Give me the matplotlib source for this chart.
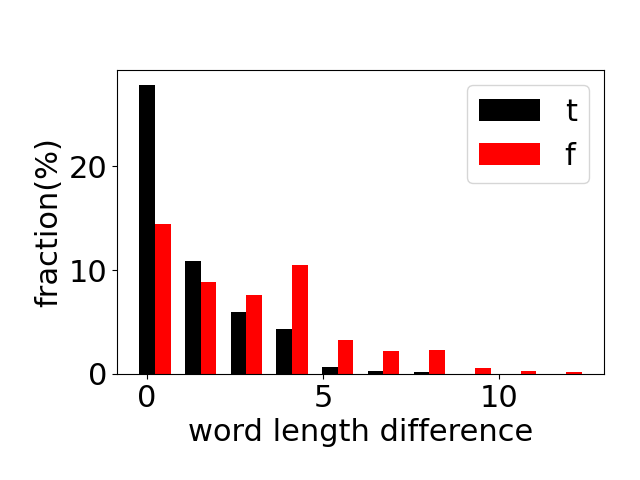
import numpy as np
import matplotlib
matplotlib.use('Agg')
import matplotlib.pyplot as plt

# bin left edges (word length difference)
bin_left = np.arange(10) * 1.3
frac_t = [27.9, 10.9, 6.0, 4.3, 0.65, 0.3, 0.2, 0, 0, 0]
frac_f = [14.5, 8.85, 7.6, 10.5, 3.3, 2.2, 2.3, 0.6, 0.3, 0.2]

ancho = 0.445

plt.rcParams['font.size'] = 22
fig, ax = plt.subplots(figsize=(6.4, 4.8), dpi=100)
fig.subplots_adjust(left=0.183, right=0.944, top=0.854, bottom=0.221)

ax.bar(bin_left, frac_t, width=ancho, color='black', label='t')
ax.bar(bin_left + ancho, frac_f, width=ancho, color='red', label='f')

ax.set_xlabel('word length difference')
ax.set_ylabel('fraction(%)')
ax.legend(loc='upper right')

fig.savefig('out.png')
